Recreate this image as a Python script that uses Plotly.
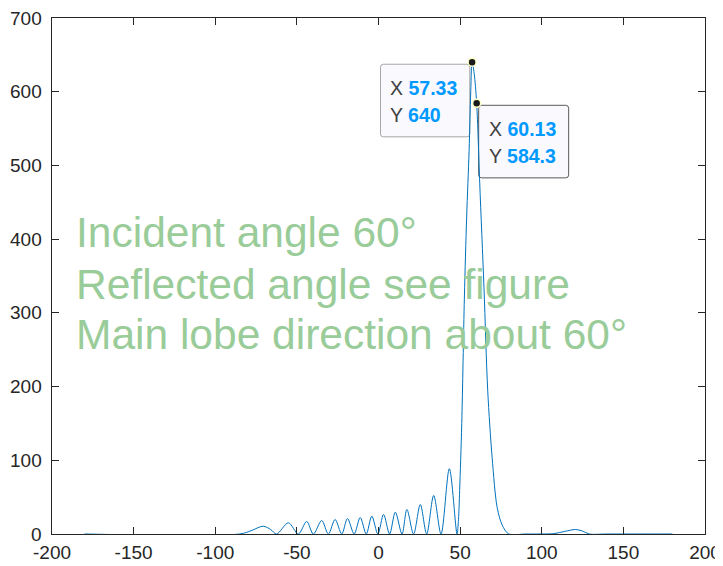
import plotly.graph_objects as go

# Beam pattern (angle in degrees, gain)
angle = [-180, -85, -78, -70.6, -66, -62.4, -55.2, -49.1, -44.0, -39.9, -34.8, -30.7,
         -26.6, -22.5, -19.0, -14.9, -11.2, -7.5, -4.1, -0.4, 3.1, 6.8, 10.3, 14.4,
         17.4, 21.5, 25.6, 29.5, 33.8, 38.3, 43.4, 48.1, 49.0, 49.7, 51.0, 52.6, 54.0,
         55.5, 56.5, 57.33, 58.6, 60.13, 62.0, 64.6, 66.9, 69.6, 72.7, 75.8, 79.8,
         90, 100, 107.4, 114, 120.7, 125, 129, 140, 180]
gain = [0, 0, 4.5, 10.6, 6, 0, 15.2, 0, 17.0, 0, 18.3, 0,
        19.7, 0, 21.0, 0, 22.4, 0, 24.2, 0, 26.5, 0, 29.6, 0,
        33.3, 0, 40.1, 0, 52.3, 0, 88.6, 0, 20, 59, 150, 320, 430,
        520, 600, 640, 625, 584.3, 476, 335, 195, 104, 36, 12, 0,
        0, 0, 0.5, 3.5, 6.1, 4, 0, 0, 0]

# data tips
tip_x = [57.33, 60.13]
tip_y = [640, 584.3]

x_ticks = [-200, -150, -100, -50, 0, 50, 100, 150, 200]
y_ticks = [0, 100, 200, 300, 400, 500, 600, 700]

note_lines = ["Incident angle 60°", "Reflected angle see figure", "Main lobe direction about 60°"]
note_y = [409, 339, 270]

axis_color = "#262626"
font_family = "Liberation Sans, Arial, sans-serif"

fig = go.Figure()

fig.add_trace(go.Scatter(
    x=angle, y=gain, mode="lines",
    line=dict(color="#0072BD", width=1, shape="spline", smoothing=0.9),
    hoverinfo="skip", showlegend=False
))

fig.add_trace(go.Scatter(
    x=tip_x, y=tip_y, mode="markers",
    marker=dict(color="#1a1a1a", size=8, line=dict(color="#ffffc8", width=1.5)),
    hoverinfo="skip", showlegend=False
))


def rounded_box(x0, x1, y0, y1, r=3):
    # pixel path, y positive upward
    return (f"M{x0 + r},{y0} L{x1 - r},{y0} Q{x1},{y0} {x1},{y0 - r} "
            f"L{x1},{y1 + r} Q{x1},{y1} {x1 - r},{y1} L{x0 + r},{y1} "
            f"Q{x0},{y1} {x0},{y1 + r} L{x0},{y0 - r} Q{x0},{y0} {x0 + r},{y0} Z")


# box placement relative to each tip (pixels): left of the first, right of the second
box_specs = [(-91.6, -2.3, "#a6a6a6"), (2.0, 92.0, "#595959")]
for tx, ty, (bx0, bx1, border) in zip(tip_x, tip_y, box_specs):
    fig.add_shape(
        type="path", xref="x", yref="y",
        xsizemode="pixel", ysizemode="pixel", xanchor=tx, yanchor=ty,
        path=rounded_box(bx0, bx1, -2, -74.6),
        fillcolor="#f9f9fe", line=dict(color=border, width=1), layer="below"
    )
    for label, val, dy in [("X", tx, -25.8), ("Y", ty, -52.8)]:
        fig.add_annotation(
            x=tx, y=ty, xref="x", yref="y", showarrow=False,
            xanchor="left", yanchor="middle",
            xshift=bx0 + 8, yshift=dy,
            text=f'{label} <span style="color:#0099FF"><b>{val:g}</b></span>',
            font=dict(family=font_family, size=19.5, color="#404040")
        )

for line_text, ny in zip(note_lines, note_y):
    fig.add_annotation(
        x=-186.5, y=ny, xref="x", yref="y", showarrow=False,
        xanchor="left", yanchor="middle", align="left",
        text=line_text,
        font=dict(family=font_family, size=42.5, color="#99CC99")
    )

# y tick labels placed by hand so they sit close to the axis like MATLAB does
for yt in y_ticks:
    fig.add_annotation(
        x=0, y=yt, xref="paper", yref="y", showarrow=False,
        xanchor="right", yanchor="middle", xshift=-8,
        text=str(yt), font=dict(family=font_family, size=19, color=axis_color)
    )

# the page body adds an 8px margin, so the figure is 8px smaller than the window
fig.update_layout(
    width=715, height=558,
    margin=dict(l=44, r=18, t=10, b=32),
    plot_bgcolor="white", paper_bgcolor="white",
    font=dict(family=font_family, size=19, color=axis_color)
)

fig.update_xaxes(
    range=[-200, 200], tickvals=x_ticks, ticktext=[str(v) for v in x_ticks],
    showline=True, linecolor=axis_color, linewidth=1, mirror="allticks",
    ticks="inside", ticklen=7, tickcolor=axis_color, tickwidth=1,
    showgrid=False, zeroline=False, ticklabelstandoff=1, automargin=False,
    ticklabeloverflow="allow", tickfont=dict(size=19, color=axis_color)
)
fig.update_yaxes(
    range=[0, 700], tickvals=y_ticks, showticklabels=False,
    showline=True, linecolor=axis_color, linewidth=1, mirror="allticks",
    ticks="inside", ticklen=7, tickcolor=axis_color, tickwidth=1,
    showgrid=False, zeroline=False, automargin=False
)

fig.write_html("out.html")
